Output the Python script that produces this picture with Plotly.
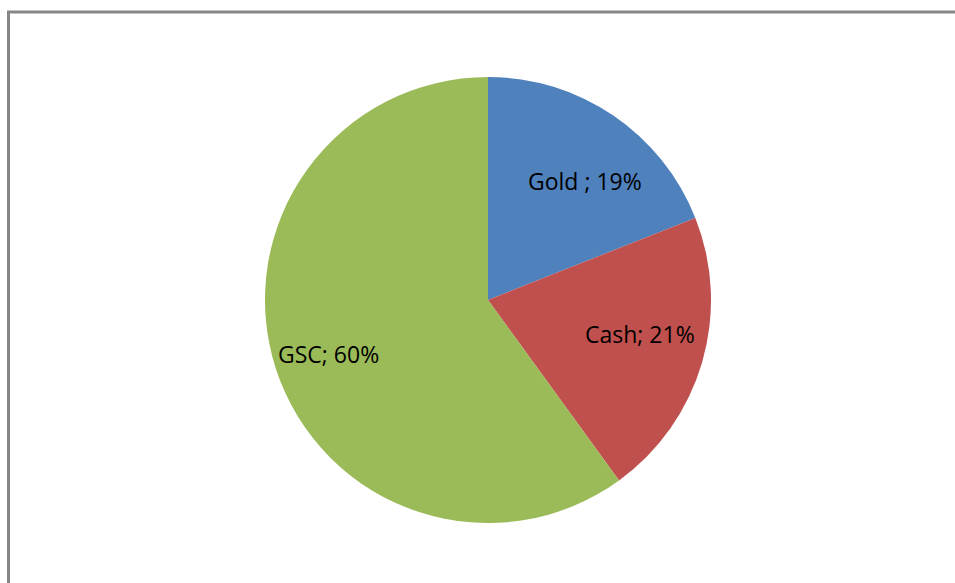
import plotly.graph_objects as go

categories = ["Gold", "Cash", "GSC"]
values = [19, 21, 60]
label_seps = [" ; ", "; ", "; "]
colors = ["#4F81BD", "#C0504D", "#9BBB59"]
# label positions (paper fraction) as laid out in the reference
label_pos = [(585 / 955, 1 - 181 / 583), (640 / 955, 1 - 334 / 583), (328 / 955, 1 - 354 / 583)]

total = sum(values)
texts = [f"{c}{s}{round(v / total * 100)}%" for c, s, v in zip(categories, label_seps, values)]

fig = go.Figure(go.Pie(
    labels=categories,
    values=values,
    sort=False,
    direction="clockwise",
    rotation=0,
    marker=dict(colors=colors, line=dict(width=0)),
    textinfo="none",
    hoverinfo="label+percent",
    domain=dict(x=[265 / 955, 711 / 955], y=[60 / 583, 506 / 583]),
    showlegend=False,
))

for t, (x, y) in zip(texts, label_pos):
    fig.add_annotation(x=x, y=y, xref="paper", yref="paper", text=t, showarrow=False,
                       font=dict(family="Open Sans", size=23, color="#000000"),
                       xanchor="center", yanchor="middle")

fig.add_shape(type="rect", xref="paper", yref="paper",
              x0=8.5 / 955, x1=1.05, y0=-0.05, y1=1 - 12 / 583,
              line=dict(color="#868686", width=3), fillcolor="rgba(0,0,0,0)")

fig.update_layout(width=955, height=583, margin=dict(l=0, r=0, t=0, b=0),
                  paper_bgcolor="white", plot_bgcolor="white")

fig.write_html("out.html")
